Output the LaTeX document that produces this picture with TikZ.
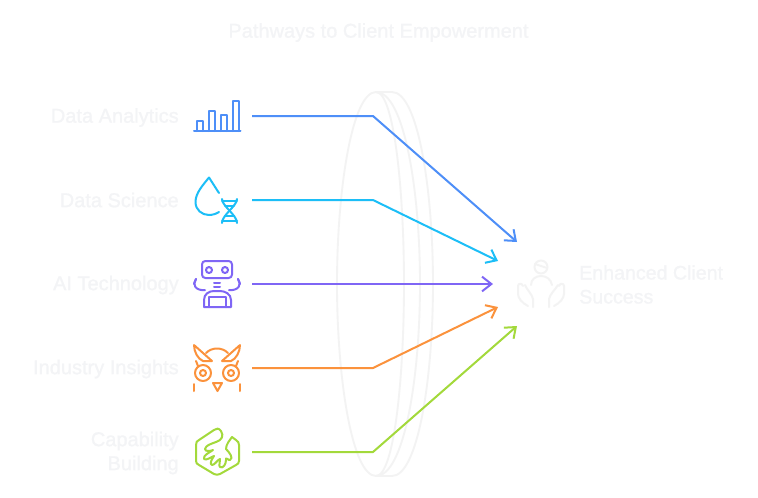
\documentclass[tikz,border=0pt]{standalone}
\usepackage{fontspec}
\setmainfont{Liberation Sans}
\newfontfamily\boldish[FakeBold=0.6]{Liberation Sans}
\usetikzlibrary{arrows.meta}
\definecolor{pale}{HTML}{F3F4F6}
\definecolor{ringc}{HTML}{F3F3F3}
\definecolor{cblue}{HTML}{4E8FF8}
\definecolor{ccyan}{HTML}{1CBEF7}
\definecolor{cpurple}{HTML}{7F66F5}
\definecolor{corange}{HTML}{FB923C}
\definecolor{cgreen}{HTML}{A3D93B}
\tikzset{
  lab/.style={text=pale,font=\boldish\fontsize{15}{18}\selectfont,inner sep=0pt,align=right,anchor=east},
  ttl/.style={text=pale,font=\boldish\fontsize{15}{18}\selectfont,inner sep=0pt},
  outlab/.style={text=pale,font=\boldish\fontsize{14.7}{18}\selectfont,inner sep=0pt,align=left,anchor=west},
  ring/.style={draw=ringc,line width=1.4pt},
  icon/.style={line width=1.5pt,line cap=round,line join=round},
  flow/.style={line width=1.5pt,line join=round,-{Straight Barb[length=7pt,width=11pt,line width=1.5pt]}}
}
\begin{document}
\begin{tikzpicture}[x=0.75pt,y=-0.75pt]
\useasboundingbox[fill=white] (0,0) rectangle (758,497);
% lens
\draw[ring] (376,92) .. controls (352,92) and (337,190) .. (337,284) .. controls (337,378) and (352,476) .. (376,476) .. controls (394,476) and (404,378) .. (404,284) .. controls (404,190) and (394,92) .. (376,92);
\draw[ring] (376,92) .. controls (404,92) and (420,190) .. (420,284) .. controls (420,378) and (404,476) .. (376,476);
\draw[ring] (376,92) -- (392,92) .. controls (418,92) and (433,190) .. (433,284) .. controls (433,378) and (418,476) .. (392,476) -- (376,476);
% labels
\node[ttl] (title) at (378.5,32.5) {Pathways to Client Empowerment};
\node[lab] (l1) at (179,117.5) {Data Analytics};
\node[lab] (l2) at (179,200) {Data Science};
\node[lab] (l3) at (179,285) {AI Technology};
\node[lab] (l4) at (179,369) {Industry Insights};
\node[lab] (l5) at (179,453) {Capability\\Building};
\node[outlab] (res) at (579,284.5) {Enhanced Client\\Success};
% connector ends
\coordinate (s1) at (252,116); \coordinate (b1) at (373,116); \coordinate (e1) at (517,242);
\coordinate (s2) at (252,200); \coordinate (b2) at (373,200); \coordinate (e2) at (498,261);
\coordinate (s3) at (252,284); \coordinate (e3) at (493,284);
\coordinate (s4) at (252,368); \coordinate (b4) at (373,368); \coordinate (e4) at (498,307);
\coordinate (s5) at (252,452); \coordinate (b5) at (373,452); \coordinate (e5) at (517,326);
\draw[flow,cblue] (s1) -- (b1) -- (e1);
\draw[flow,ccyan] (s2) -- (b2) -- (e2);
\draw[flow,cpurple] (s3) -- (e3);
\draw[flow,corange] (s4) -- (b4) -- (e4);
\draw[flow,cgreen] (s5) -- (b5) -- (e5);
% bars
\begin{scope}[icon,draw=cblue]
\draw (194,131) -- (240.5,131);
\draw (196.5,131) -- (196.5,121) -- (202.5,121) -- (202.5,131);
\draw (208.5,131) -- (208.5,111) -- (214.5,111) -- (214.5,131);
\draw (220.5,131) -- (220.5,115) -- (226.5,115) -- (226.5,131);
\draw (232.5,131) -- (232.5,101) -- (238.5,101) -- (238.5,131);
\end{scope}
% drop + dna
\begin{scope}[icon,draw=ccyan]
\draw (219,193) .. controls (215,187) and (212,182) .. (209,177.5) .. controls (203,185) and (195.5,193) .. (195.5,202) .. controls (195.5,210) and (202,215) .. (209,215) .. controls (212,215) and (216,214) .. (219,212);
\draw (222,199) .. controls (222,206) and (237,215) .. (237,223);
\draw (237,199) .. controls (237,206) and (222,215) .. (222,223);
\draw (222,201) -- (237,201) (225,206) -- (234,206) (225,216) -- (234,216) (222,221) -- (237,221);
\end{scope}
% robot
\begin{scope}[icon,draw=cpurple]
\draw[rounded corners=2.5] (202,261) rectangle (232,278);
\draw (209,270) circle (3) (225,270) circle (3);
\draw (214,283) -- (220,283) (214,287) -- (220,287);
\draw (196,279) .. controls (192,284) and (195,291) .. (205,290);
\draw (238,279) .. controls (242,284) and (239,291) .. (229,290);
\draw (194,284) -- (196,279) (240,284) -- (238,279);
\draw (204,307) -- (204,300) .. controls (204,294) and (209,291) .. (214,291) -- (220,291) .. controls (225,291) and (231,294) .. (231,300) -- (231,307) -- cycle;
\draw (209,307) -- (209,297) -- (226,297) -- (226,307);
\end{scope}
% owl
\begin{scope}[icon,draw=corange]
\draw (194,345) -- (212,361) -- (203,361) .. controls (198,359) and (194,352) .. (194,345);
\draw (240,345) -- (222,361) -- (231,361) .. controls (236,359) and (240,352) .. (240,345);
\draw (206,353) .. controls (212,347) and (222,347) .. (228,353);
\draw (203,373) circle (8) (203,373) circle (3);
\draw (231,373) circle (8) (231,373) circle (3);
\draw (196,361) -- (198,366) (238,361) -- (236,366);
\draw (213,383) -- (222,383) -- (217.5,391) -- cycle;
\draw (194,384) -- (194,391) (240,384) -- (240,391);
\end{scope}
% frog hexagon
\begin{scope}[icon,draw=cgreen]
\draw (221,431) .. controls (219,428) and (216,428) .. (214,430) -- (199,440) .. controls (197,441) and (196,442) .. (196,445) -- (196,461) .. controls (196,463) and (197,464) .. (199,465) -- (214,474) .. controls (216,475) and (218,475) .. (220,474) -- (236,465) .. controls (238,464) and (239,463) .. (239,461) -- (239,445) .. controls (239,443) and (238,441) .. (236,440) -- (232,437);
\draw (221,431) .. controls (224,436) and (222,440) .. (216,442) .. controls (211,444) and (206,445) .. (205,449) .. controls (205,452) and (211,451) .. (213,450) .. controls (209,453) and (203,455) .. (204,459) .. controls (206,461) and (211,457) .. (214,456) .. controls (212,459) and (209,464) .. (212,465) .. controls (215,465) and (217,460) .. (220,459) .. controls (221,462) and (218,465) .. (220,467) .. controls (223,469) and (226,464) .. (226,460) .. controls (225,456) and (229,461) .. (230,460) .. controls (234,458) and (229,452) .. (226,449) .. controls (226,444) and (230,440) .. (232,437);
\end{scope}
% person
\begin{scope}[icon,draw=ringc]
\draw (541,267) circle (6.5);
\draw (535,264) -- (547,268);
\draw (531,285) .. controls (531,279) and (536,276) .. (541,276) .. controls (546,276) and (551,279) .. (552,285);
\draw (533,307) -- (533,299) .. controls (532,294) and (527,290) .. (525,285);
\draw (528,306) .. controls (522,303) and (518,298) .. (518,294) -- (518,286) .. controls (518,283) and (522,283) .. (523,286);
\draw (549,307) -- (549,299) .. controls (550,294) and (555,290) .. (558,285);
\draw (554,306) .. controls (560,303) and (564,298) .. (564,294) -- (564,286) .. controls (564,283) and (560,283) .. (559,286);
\end{scope}
\end{tikzpicture}
\end{document}
